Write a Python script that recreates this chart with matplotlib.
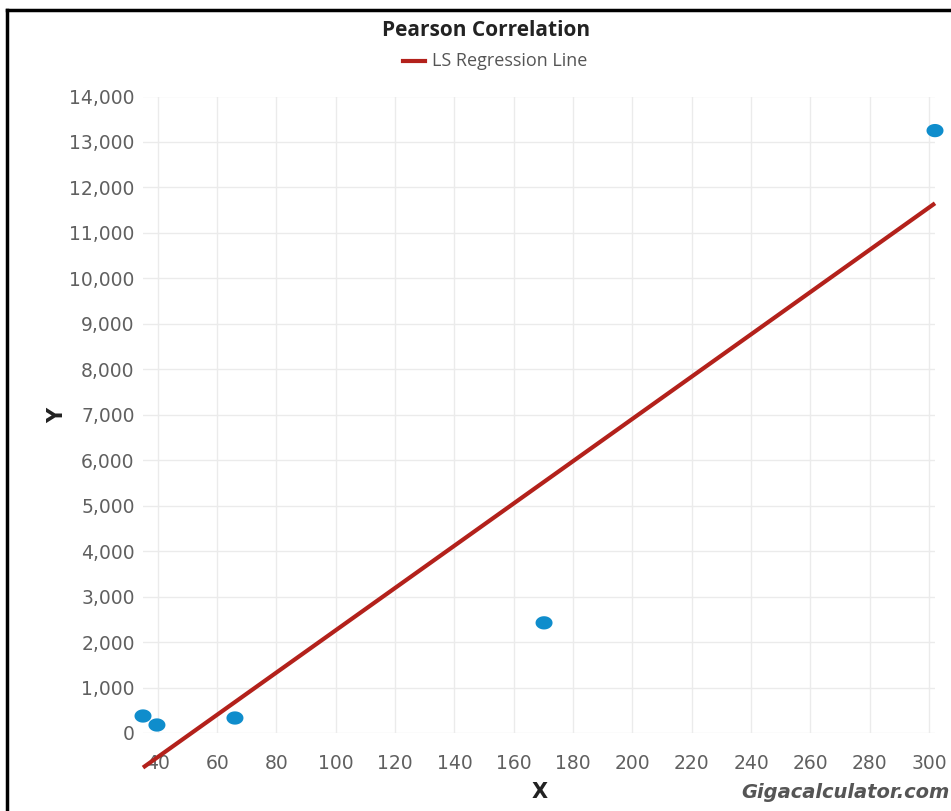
import matplotlib
matplotlib.use("Agg")
import matplotlib.pyplot as plt
import numpy as np
from matplotlib.lines import Line2D
from matplotlib.path import Path

# Data
x_vals = [35, 39.7, 66, 170.2, 302]
y_vals = [374, 176, 330, 2423, 13250]
x_ticks = list(range(40, 301, 20))
y_ticks = list(range(0, 14001, 1000))
y_tick_labels = ["{:,}".format(v) for v in y_ticks]
title = "Pearson Correlation"
legend_label = "LS Regression Line"

plt.rcParams["font.family"] = ["DejaVu Sans"]

W, H = 951, 811
fig = plt.figure(figsize=(W / 100, H / 100), dpi=100)
fig.patch.set_facecolor("white")

ax = fig.add_axes([143 / W, 1 - 733 / H, (935 - 143) / W, (733 - 96.5) / H])
ax.set_xlim(min(x_vals), max(x_vals))
ax.set_ylim(0, 14000)

ax.set_xticks(x_ticks)
ax.set_yticks(y_ticks)
ax.set_yticklabels(y_tick_labels)
ax.grid(True, color="#ebebeb", linewidth=1)
ax.set_axisbelow(True)
for s in ax.spines.values():
    s.set_visible(False)
ax.tick_params(length=0, colors="#606060", labelsize=13.5)
ax.tick_params(axis="x", pad=15)
ax.tick_params(axis="y", pad=6)

# regression
slope, intercept = np.polyfit(x_vals, y_vals, 1)
xr = np.array([min(x_vals), max(x_vals)])
ax.plot(xr, slope * xr + intercept, color="#b3211b", linewidth=3, clip_on=False,
        solid_capstyle="butt", zorder=3)

# elliptical marker
t = np.linspace(0, 2 * np.pi, 60)
verts = np.column_stack([np.cos(t), 0.78 * np.sin(t)])
ell = Path(verts, closed=True)
ax.scatter(x_vals, y_vals, s=150, color="#0f8dcc", marker=ell, clip_on=False,
           zorder=4, edgecolors="none")

# title & legend
fig.text(486 / W, 1 - 30 / H, title, ha="center", va="center", fontsize=15,
         fontweight="bold", family="Open Sans", color="#222222")
fig.add_artist(Line2D([403 / W, 425 / W], [1 - 61 / H, 1 - 61 / H],
                      color="#b3211b", linewidth=3))
fig.text(432 / W, 1 - 61 / H, legend_label, ha="left", va="center", fontsize=13,
         family="Open Sans", color="#555555")

# axis labels
fig.text(57 / W, 1 - 415 / H, "Y", ha="center", va="center", rotation=90,
         fontsize=15, fontweight="bold", color="#222222")
fig.text(540 / W, 1 - 792 / H, "X", ha="center", va="center",
         fontsize=15, fontweight="bold", color="#222222")
fig.text(950 / W, 1 - 792 / H, "Gigacalculator.com", ha="right", va="center",
         fontsize=14, fontweight="bold", fontstyle="italic", color="#555555")

# border
fig.add_artist(Line2D([7 / W, 7 / W], [0, 1 - 10 / H], color="black", linewidth=2.5))
fig.add_artist(Line2D([7 / W, 1], [1 - 10 / H, 1 - 10 / H], color="black", linewidth=2.5))

fig.savefig("out.png", dpi=100)
